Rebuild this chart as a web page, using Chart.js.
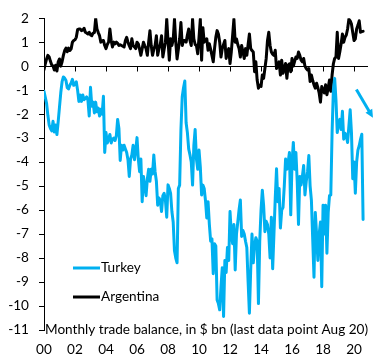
<!DOCTYPE html>
<html>
<head>
<meta charset="utf-8">
<script src="https://cdn.jsdelivr.net/npm/chart.js@4/dist/chart.umd.min.js"></script>
<style>
  html, body { margin: 0; padding: 0; background: #fff; }
</style>
</head>
<body>
<canvas id="chart" width="383" height="360"></canvas>
<script>
// Monthly trade balance, $ bn, Jan 2000 - Aug 2020 (one row per year)
const startYear = 2000;

const turkey = [
  -1.05, -1.3, -1.55, -2.05, -2.45, -2.6, -2.7, -2.3, -2.75, -2.45, -2.85, -2.3,
  -1.7, -1.1, -0.65, -0.45, -0.5, -0.6, -0.9, -0.95, -0.8, -0.7, -0.55, -0.8,
  -0.75, -0.65, -1.0, -1.47, -1.2, -1.47, -1.2, -1.4, -1.35, -1.28, -1.42, -2.08,
  -0.88, -1.67, -1.5, -1.95, -1.5, -1.9, -1.75, -2.08, -1.8, -2.0, -1.26, -3.6,
  -2.77, -3.2, -3.05, -2.85, -3.2, -3.05, -3.0, -3.1, -2.9, -2.22, -2.6, -3.93,
  -3.3, -3.5, -3.3, -3.45, -3.6, -3.9, -4.6, -3.87, -3.7, -3.3, -3.9, -3.5,
  -2.98, -3.87, -4.4, -3.87, -5.65, -4.6, -5.0, -5.4, -4.7, -4.3, -4.8, -4.3,
  -4.5, -3.7, -4.4, -4.8, -5.8, -5.5, -5.6, -6.06, -5.4, -5.3, -5.6, -6.3,
  -4.95, -5.1, -5.3, -6.06, -6.5, -7.7, -8.0, -8.2, -5.1, -4.96, -2.64, -1.27,
  -0.9, -0.62, -2.36, -2.77, -3.45, -3.7, -4.0, -4.96, -3.3, -2.64, -3.87, -4.3,
  -3.5, -4.2, -5.37, -4.96, -5.1, -5.6, -6.33, -5.65, -6.6, -7.3, -7.2, -8.65,
  -7.4, -7.5, -9.75, -9.9, -10.16, -9.2, -8.4, -10.44, -8.1, -8.6, -7.56, -8.1,
  -6.06, -7.0, -7.4, -6.6, -8.5, -7.0, -6.5, -5.98, -5.58, -7.1, -6.85, -7.0,
  -7.3, -7.56, -9.0, -10.3, -8.5, -7.0, -8.2, -7.5, -7.15, -7.3, -9.9, -7.3,
  -6.0, -5.17, -5.8, -6.9, -6.47, -6.6, -7.0, -8.0, -6.3, -8.45, -7.0, -5.5,
  -4.28, -5.65, -5.1, -6.75, -6.0, -5.9, -5.0, -3.87, -4.3, -4.0, -3.6, -6.2,
  -4.0, -3.18, -4.3, -3.6, -4.8, -6.6, -4.6, -4.96, -4.6, -4.14, -5.37, -4.8,
  -4.4, -3.73, -5.0, -5.6, -7.2, -8.8, -6.1, -7.0, -8.1, -7.0, -6.5, -9.2,
  -5.8, -7.0, -5.8, -7.8, -6.1, -5.4, -5.37, -2.77, -0.99, -0.51, -1.4, -2.77,
  -2.4, -2.22, -2.64, -1.88, -3.05, -2.8, -2.9, -3.18, -2.5, -1.82, -2.77, -4.69,
  -4.0, -5.3, -4.0, -3.5, -3.32, -3.05, -2.84, -6.39
];

const argentina = [
  -0.15, 0.1, 0.3, 0.45, 0.38, 0.2, 0.05, 0.0, -0.16, 0.04, -0.2, 0.18,
  0.3, 0.0, 0.18, 0.45, 0.65, 0.75, 0.6, 0.75, 0.65, 0.72, 1.0, 1.07,
  1.1, 1.2, 1.52, 1.55, 1.55, 1.48, 1.5, 1.58, 1.41, 1.38, 1.34, 1.41,
  1.3, 1.27, 1.38, 1.4, 1.99, 1.55, 1.4, 1.27, 1.0, 1.05, 1.07, 0.86,
  0.73, 0.9, 1.0, 1.55, 1.07, 0.8, 1.0, 0.93, 1.0, 0.95, 0.86, 0.89,
  0.86, 0.83, 0.8, 1.07, 1.2, 1.0, 0.85, 0.73, 1.14, 0.86, 0.8, 0.73,
  1.0, 0.93, 0.7, 0.45, 0.73, 1.0, 0.85, 0.73, 0.45, 1.0, 1.48, 0.86,
  0.45, 0.7, 0.86, 1.27, 0.45, 0.73, 0.9, 1.27, 0.38, 0.7, 1.0, 1.96,
  1.07, 0.25, 1.14, 0.86, 1.1, 1.96, 1.0, 0.3, 0.7, 1.14, 1.82, 0.86,
  1.07, 1.07, 1.0, 1.3, 1.55, 1.07, 0.86, 1.96, 1.14, 0.9, 0.86, 0.52,
  1.2, 1.96, 0.25, 1.6, 1.0, 1.1, 1.14, 0.66, 0.93, 0.7, 0.45, 0.18,
  0.73, 1.2, 1.48, 1.34, 1.0, 0.38, 0.73, 0.9, 1.07, 0.32, 0.6, 0.73,
  0.11, 0.6, 1.27, 1.96, 1.0, 1.14, 0.9, 0.73, 0.38, 0.86, 0.6, 0.32,
  0.73, 0.45, 0.9, 1.34, 0.73, 0.65, 0.59, -0.23, 0.18, -0.58, -0.92, -0.8,
  -0.85, -0.37, -0.51, -0.1, 0.32, 1.07, 1.41, 0.86, 0.59, 0.5, 0.45, 0.66,
  -0.1, 0.05, 0.18, -0.37, 0.25, -0.3, -0.1, 0.11, -0.51, 0.04, 0.1, -0.23,
  0.32, 0.0, 0.2, 0.38, 0.32, 0.59, 0.45, 0.25, 0.18, 0.32, 0.0, -0.1,
  -0.16, -0.1, -0.64, -0.37, -0.6, -0.78, -0.92, -0.71, -0.9, -1.12, -1.5, -0.85,
  -1.0, -1.12, -0.78, -1.19, -0.9, -0.58, -1.05, -0.37, 0.1, 0.32, 0.38, 1.41,
  0.32, 0.6, 0.93, 1.34, 1.0, 1.2, 1.3, 1.55, 1.96, 1.89, 1.75, 1.4,
  1.07, 1.14, 1.55, 1.7, 1.89, 1.41, 1.44, 1.45
];

const seriesNames = ['Turkey', 'Argentina'];
const seriesColors = ['#00B0F0', '#000000'];
const yearTicks = [2000, 2002, 2004, 2006, 2008, 2010, 2012, 2014, 2016, 2018, 2020];
const axisNote = 'Monthly trade balance, in $ bn (last data point Aug 20)';
// arrow annotation, in data units (year, $ bn)
const arrowFrom = [2020.15, -0.97];
const arrowTo = [2021.22, -2.15];

const FONT = 'Lato, "Liberation Sans", sans-serif';

const toPoints = (vals) => vals.map((v, i) => ({ x: startYear + i / 12, y: v }));

const extras = {
  id: 'extras',
  beforeDatasetsDraw(chart) {
    const { ctx, chartArea, scales: { x, y } } = chart;
    const y0 = Math.round(y.getPixelForValue(0)) + 0.5;
    ctx.save();
    ctx.strokeStyle = '#000';
    ctx.lineWidth = 1;
    ctx.beginPath();
    ctx.moveTo(chartArea.left, y0);
    ctx.lineTo(chartArea.right, y0);
    x.ticks.forEach((t) => {
      const px = Math.round(x.getPixelForValue(t.value)) + 0.5;
      ctx.moveTo(px, y0);
      ctx.lineTo(px, y0 + 5);
    });
    ctx.stroke();
    ctx.restore();
  },
  afterDraw(chart) {
    const { ctx, chartArea, scales: { x, y } } = chart;
    ctx.save();

    // axis note sitting on the bottom of the plot
    ctx.fillStyle = '#000';
    ctx.font = '13.6px ' + FONT;
    ctx.textBaseline = 'middle';
    ctx.textAlign = 'left';
    ctx.fillText(axisNote, chartArea.left + 1, chartArea.bottom);

    // legend inside the plot
    chart.data.datasets.forEach((ds, i) => {
      const ly = 268 + i * 29;
      ctx.strokeStyle = ds.borderColor;
      ctx.lineWidth = 3;
      ctx.beginPath();
      ctx.moveTo(73, ly);
      ctx.lineTo(100, ly);
      ctx.stroke();
      ctx.fillStyle = '#000';
      ctx.fillText(ds.label, 101, ly);
    });

    // blue arrow
    const x1 = x.getPixelForValue(arrowFrom[0]), y1 = y.getPixelForValue(arrowFrom[1]);
    const x2 = x.getPixelForValue(arrowTo[0]), y2 = y.getPixelForValue(arrowTo[1]);
    const ang = Math.atan2(y2 - y1, x2 - x1);
    const head = 9;
    ctx.strokeStyle = seriesColors[0];
    ctx.fillStyle = seriesColors[0];
    ctx.lineWidth = 3;
    ctx.beginPath();
    ctx.moveTo(x1, y1);
    ctx.lineTo(x2 - Math.cos(ang) * head * 0.8, y2 - Math.sin(ang) * head * 0.8);
    ctx.stroke();
    ctx.beginPath();
    ctx.moveTo(x2, y2);
    ctx.lineTo(x2 - head * Math.cos(ang - 0.45), y2 - head * Math.sin(ang - 0.45));
    ctx.lineTo(x2 - head * Math.cos(ang + 0.45), y2 - head * Math.sin(ang + 0.45));
    ctx.closePath();
    ctx.fill();

    ctx.restore();
  }
};

new Chart(document.getElementById('chart'), {
  type: 'line',
  data: {
    datasets: [
      { label: seriesNames[0], data: toPoints(turkey), borderColor: seriesColors[0], borderWidth: 3 },
      { label: seriesNames[1], data: toPoints(argentina), borderColor: seriesColors[1], borderWidth: 3 }
    ]
  },
  options: {
    responsive: false,
    animation: false,
    devicePixelRatio: 1,
    elements: {
      point: { radius: 0 },
      line: { tension: 0, borderJoinStyle: 'round', borderCapStyle: 'round' }
    },
    layout: { autoPadding: false, padding: { top: 14, right: 15, left: 0, bottom: 0 } },
    plugins: { legend: { display: false }, tooltip: { enabled: false } },
    scales: {
      x: {
        type: 'linear',
        min: 2000,
        max: 2020.9,
        afterFit: (s) => { s.height = 30; },
        afterBuildTicks: (s) => { s.ticks = yearTicks.map((v) => ({ value: v })); },
        grid: { display: false, drawTicks: false },
        border: { display: false },
        ticks: {
          autoSkip: false,
          maxRotation: 0,
          padding: 11,
          color: '#000',
          font: { family: FONT, size: 13.6 },
          callback: (v) => String(Math.round(v) % 100).padStart(2, '0')
        }
      },
      y: {
        min: -11,
        max: 2,
        afterFit: (s) => { s.width = 44; },
        grid: { drawOnChartArea: false, tickLength: 5, color: '#000' },
        border: { color: '#000', width: 1 },
        ticks: {
          stepSize: 1,
          padding: 10,
          color: '#000',
          font: { family: FONT, size: 13.6 }
        }
      }
    }
  },
  plugins: [extras]
});
</script>
</body>
</html>
